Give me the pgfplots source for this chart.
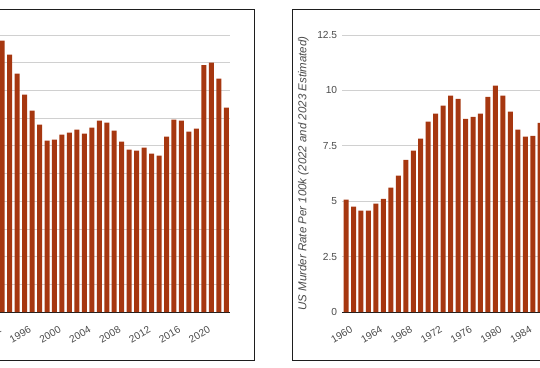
\documentclass[border=0pt]{standalone}
\usepackage{pgfplots}
\pgfplotsset{compat=1.18}
\usepackage{fontspec}
\setmainfont{Liberation Sans}
\definecolor{barc}{RGB}{166,55,16}
\definecolor{gridc}{RGB}{208,208,208}
\definecolor{txtc}{RGB}{75,75,75}
\definecolor{framec}{RGB}{30,30,30}
\begin{document}
\begin{tikzpicture}
\useasboundingbox (0pt,0pt) rectangle (540pt,367pt);
\clip (0pt,0pt) rectangle (540pt,367pt);
\pgfplotsset{
  murder/.style={
    scale only axis, width=478pt, height=277pt,
    anchor=south west,
    xmin=1959.5, xmax=2023.5, ymin=0,
    ybar, bar width=5pt,
    axis x line*=bottom, axis y line*=left,
    y axis line style={draw=none},
    x axis line style={framec, line width=0.8pt},
    tick style={draw=none},
    ymajorgrids, grid style={gridc, line width=0.7pt},
    xtick={1960,1964,...,2020},
    xticklabel style={rotate=30, anchor=north east, xshift=2pt, yshift=-6.5pt,
      font=\fontsize{10.2}{12}\selectfont, text=txtc},
    yticklabel style={inner sep=0pt, xshift=-5pt, font=\fontsize{10.2}{12}\selectfont, text=txtc},
    /pgf/number format/assume math mode=true,
    /pgf/number format/1000 sep={},
    scaled y ticks=false,
    ylabel style={at={(axis description cs:-0.0816,0.5)}, anchor=center,
      font=\fontsize{11.5}{13}\selectfont\itshape, text=txtc},
  }
}
% Left panel: US murders (count), right part visible
\begin{axis}[murder, at={(-248pt,55pt)}, ymax=25000, ytick={0,2500,...,25000},
  ylabel={US Murders (2022 and 2023 Estimated)}]
\addplot[fill=barc, draw=none] coordinates {
(1993,24490) (1994,23220) (1995,21510) (1996,19610) (1997,18170) (1998,16910)
(1999,15460) (2000,15550) (2001,16000) (2002,16180) (2003,16450) (2004,16090)
(2005,16630) (2006,17270) (2007,17090) (2008,16360) (2009,15370) (2010,14650)
(2011,14560) (2012,14830) (2013,14290) (2014,14110) (2015,15820) (2016,17360)
(2017,17270) (2018,16270) (2019,16540) (2020,22290) (2021,22500) (2022,21060)
(2023,18440)
};
\end{axis}
% Right panel: US murder rate per 100k, left part visible
\begin{axis}[murder, at={(342.3pt,55pt)}, ymax=12.5, ytick={0,2.5,...,12.5},
  ylabel={US Murder Rate Per 100k (2022 and 2023 Estimated)}]
\addplot[fill=barc, draw=none] coordinates {
(1960,5.07) (1961,4.75) (1962,4.57) (1963,4.57) (1964,4.89) (1965,5.11)
(1966,5.61) (1967,6.15) (1968,6.87) (1969,7.28) (1970,7.82) (1971,8.59)
(1972,8.95) (1973,9.31) (1974,9.76) (1975,9.62) (1976,8.72) (1977,8.81)
(1978,8.95) (1979,9.71) (1980,10.21) (1981,9.76) (1982,9.04) (1983,8.23)
(1984,7.91) (1985,7.95) (1986,8.54)
};
\end{axis}
\draw[framec, line width=0.9pt] (-298pt,6.3pt) rectangle (254pt,357.2pt);
\draw[framec, line width=0.9pt] (292.5pt,6.3pt) rectangle (844.5pt,357.2pt);
\end{tikzpicture}
\end{document}
